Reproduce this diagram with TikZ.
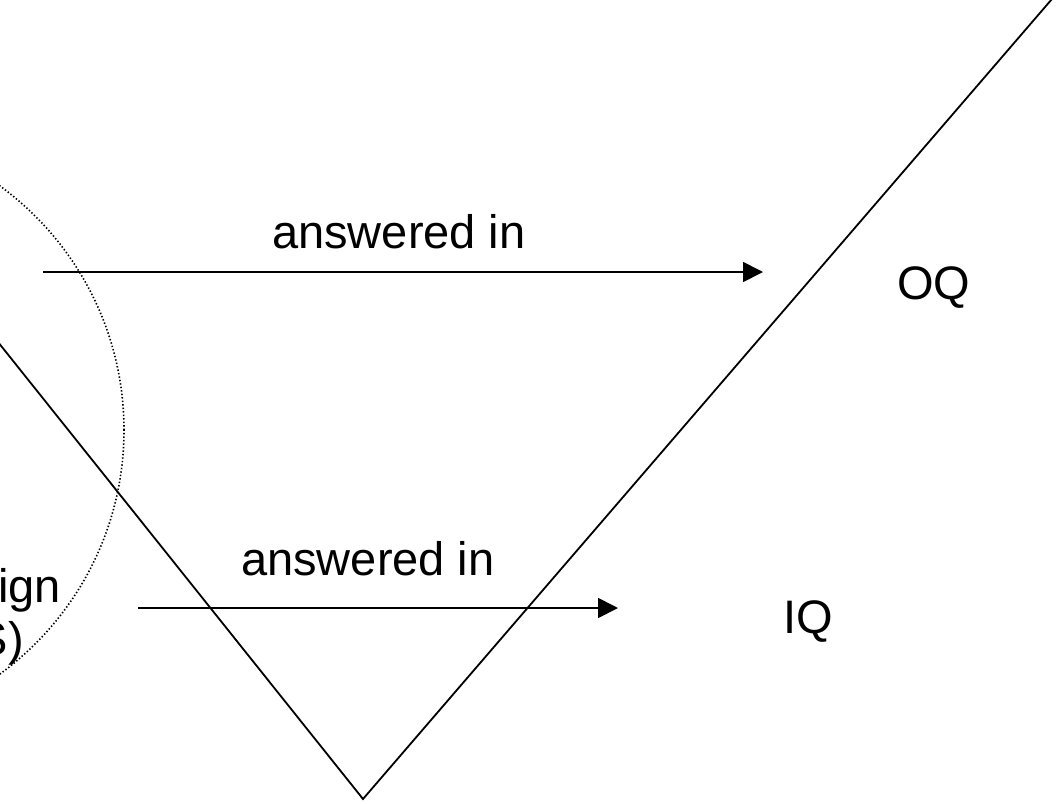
\documentclass[tikz,border=0pt]{standalone}
\usepackage{fontspec}
\setmainfont{Liberation Sans}
\usetikzlibrary{arrows.meta}
\begin{document}
\begin{tikzpicture}[x=1pt,y=-1pt,
  label/.style={inner sep=0pt,font=\fontsize{47}{56}\selectfont},
  solidline/.style={line width=1.8pt,line cap=round,line join=miter},
  flow/.style={line width=1.8pt,-{Triangle[length=20pt,width=20pt]}},
  scopering/.style={line width=1.6pt,dash pattern=on 1.4pt off 2.1pt}]
\useasboundingbox (0,0) rectangle (1057,803);

% scope ring, cut by the left edge
\node[scopering,draw,circle,minimum size=604pt,inner sep=0pt] (ring) at (-178,430) {};

% the V
\coordinate (vl) at (-10,332);
\coordinate (vb) at (363,799);
\coordinate (vr) at (1058,-8);
\draw[solidline] (vl) -- (vb) -- (vr);

% arrows
\coordinate (a1s) at (43,272);
\coordinate (a1e) at (763,272);
\coordinate (a2s) at (138,608);
\coordinate (a2e) at (618,608);
\draw[flow] (a1s) -- (a1e);
\draw[flow] (a2s) -- (a2e);

% labels
\node[label,anchor=base west] (l1) at (272,248) {answered in};
\node[label,anchor=base west] (l2) at (241,575) {answered in};
\node[label,anchor=base west] (oq) at (897,299) {OQ};
\node[label,anchor=base west] (iq) at (783,633) {IQ};
\node[label,anchor=base east] (t1) at (61,602) {ign};
\node[label,anchor=base east] (t2) at (24,655) {S)};
\end{tikzpicture}
\end{document}
